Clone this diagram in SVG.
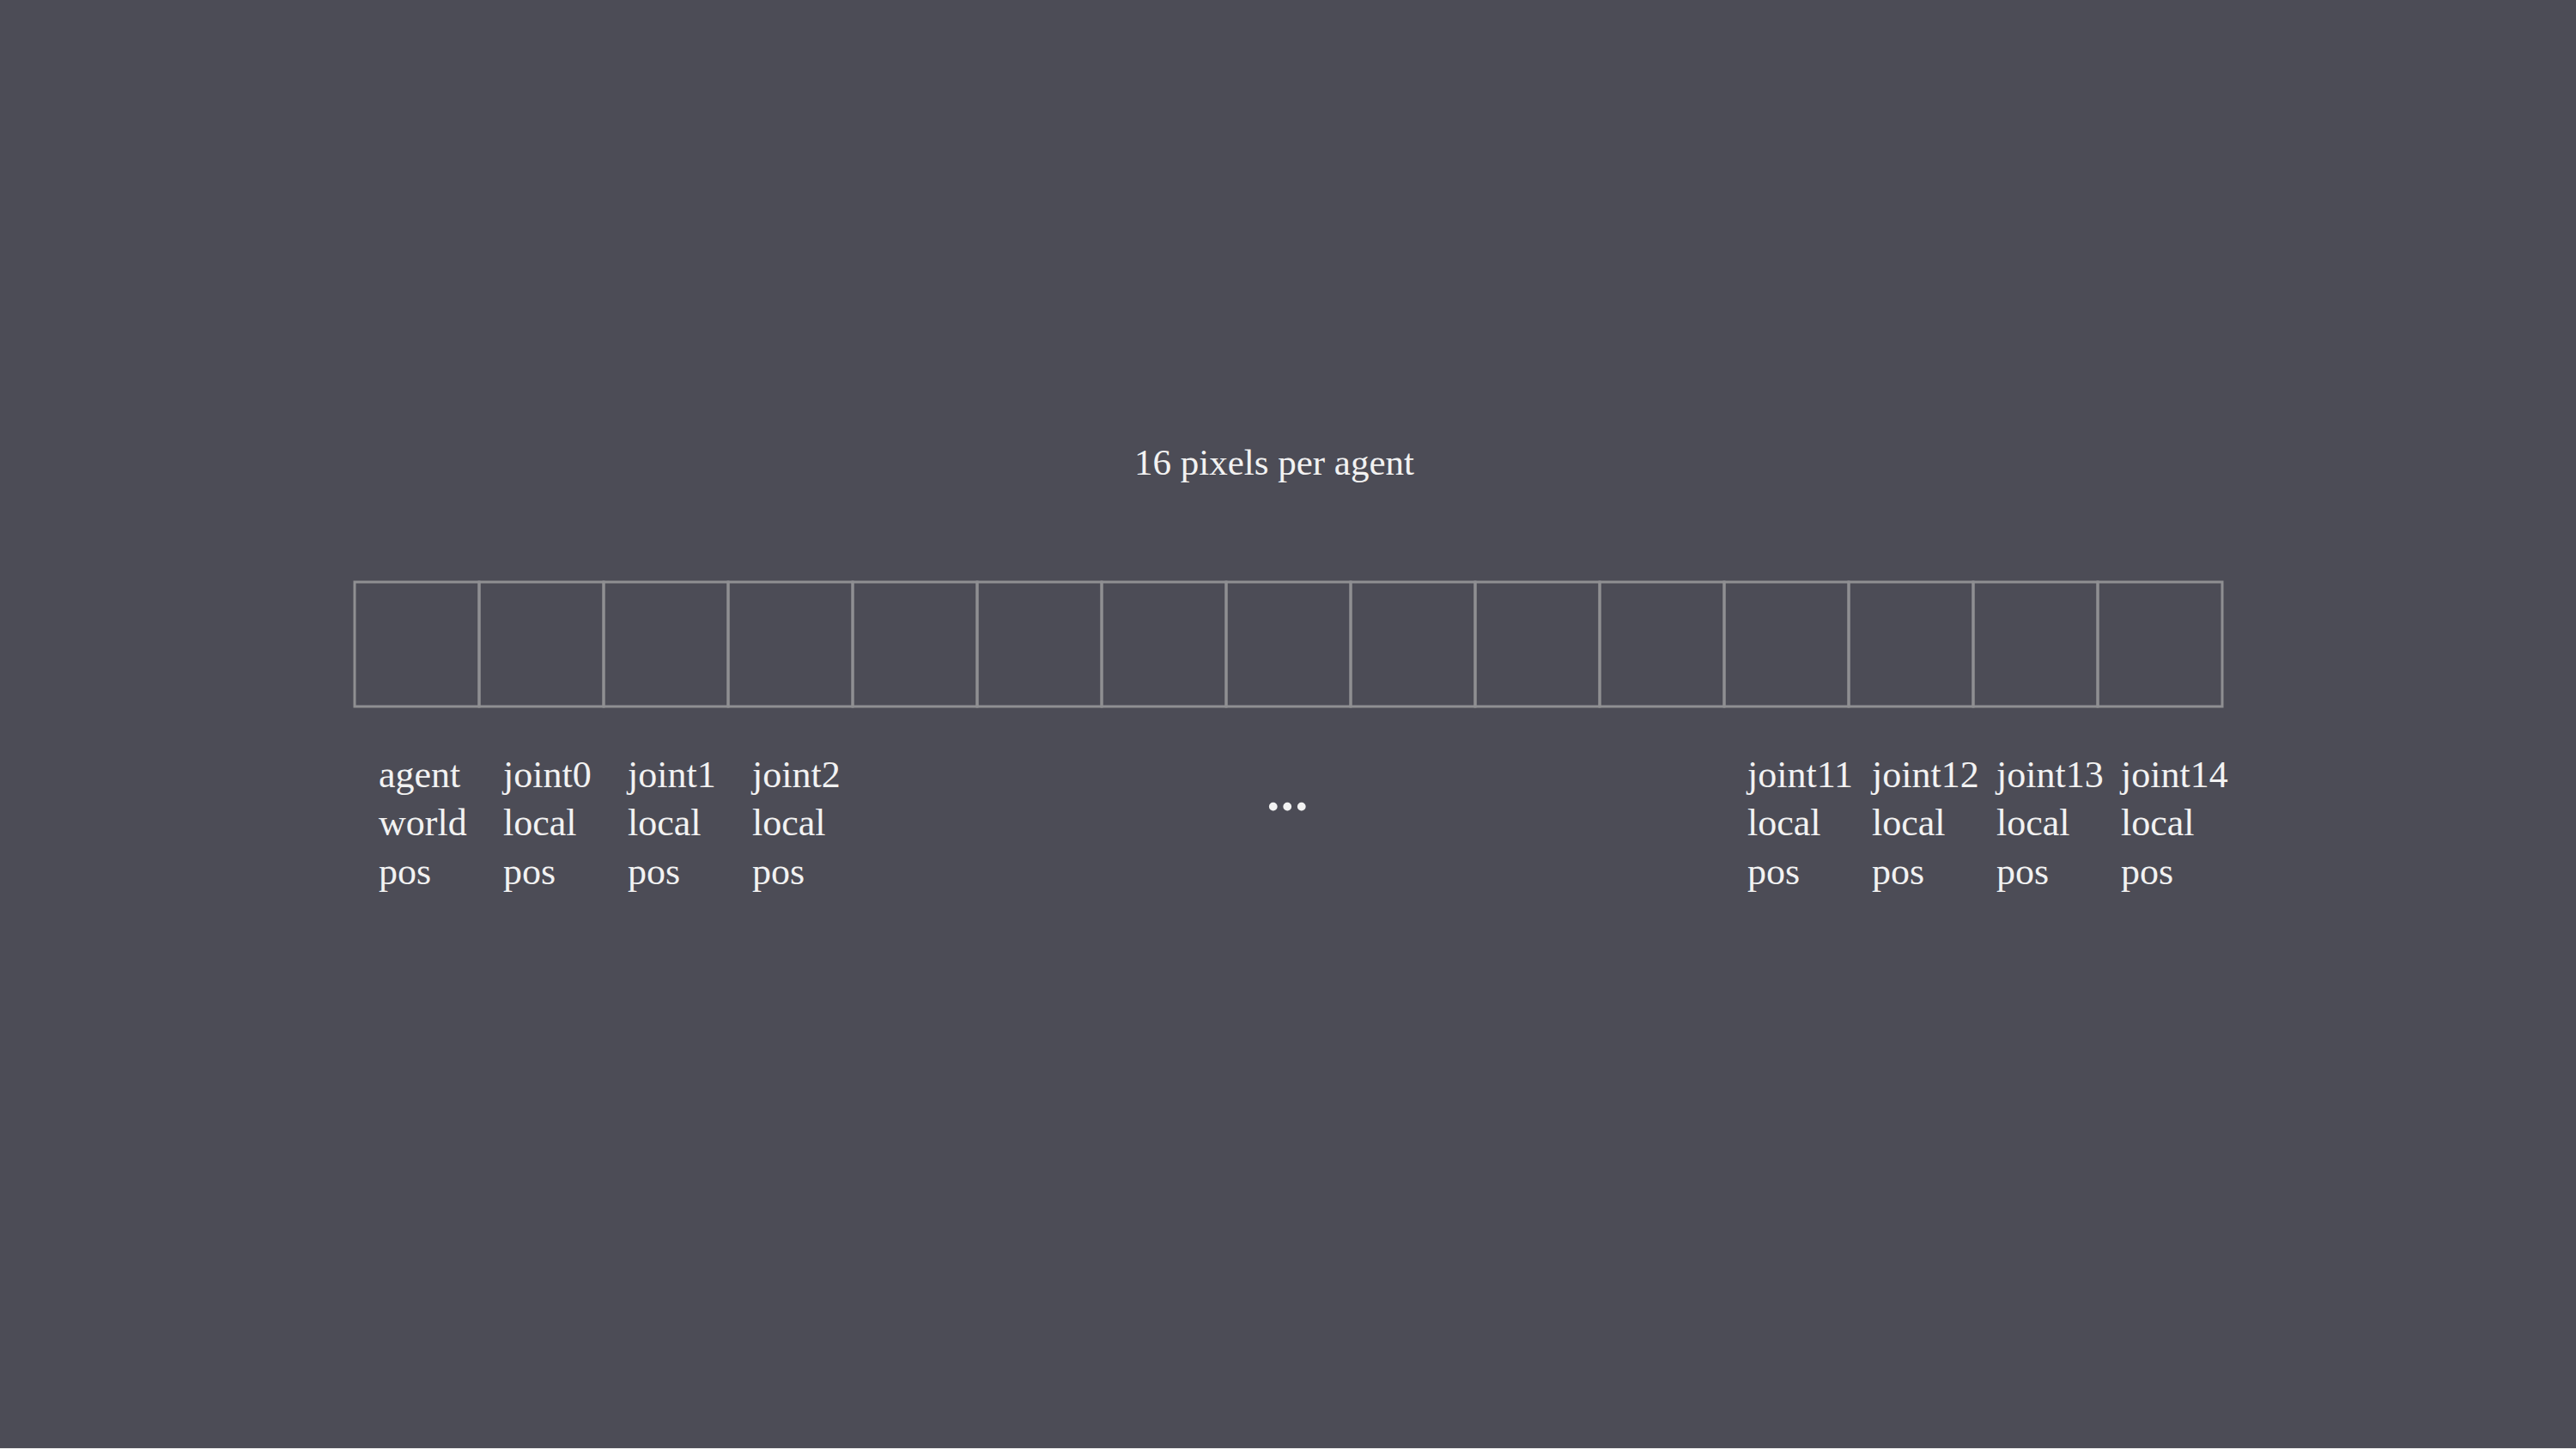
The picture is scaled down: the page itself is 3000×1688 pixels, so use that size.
<svg xmlns="http://www.w3.org/2000/svg" width="3000" height="1688" viewBox="0 0 3000 1688">
<style>
.cell{fill:none;stroke:#8f8f92;stroke-width:3}
.t{font-family:"Liberation Serif","Times New Roman",serif;font-size:44px;fill:#f2f2f2}
</style>
<rect x="0" y="0" width="3000" height="1688" fill="#4c4c56"/>
<rect x="0" y="1687" width="3000" height="1" fill="#eeeeee"/>
<text class="t" x="1484" y="553" text-anchor="middle" style="font-size:43px">16 pixels per agent</text>
<g id="cells">
<rect id="c0" class="cell" x="413" y="678" width="145" height="145"/>
<rect id="c1" class="cell" x="558" y="678" width="145" height="145"/>
<rect id="c2" class="cell" x="703" y="678" width="145" height="145"/>
<rect id="c3" class="cell" x="848" y="678" width="145" height="145"/>
<rect id="c4" class="cell" x="993" y="678" width="145" height="145"/>
<rect id="c5" class="cell" x="1138" y="678" width="145" height="145"/>
<rect id="c6" class="cell" x="1283" y="678" width="145" height="145"/>
<rect id="c7" class="cell" x="1428" y="678" width="145" height="145"/>
<rect id="c8" class="cell" x="1573" y="678" width="145" height="145"/>
<rect id="c9" class="cell" x="1718" y="678" width="145" height="145"/>
<rect id="c10" class="cell" x="1863" y="678" width="145" height="145"/>
<rect id="c11" class="cell" x="2008" y="678" width="145" height="145"/>
<rect id="c12" class="cell" x="2153" y="678" width="145" height="145"/>
<rect id="c13" class="cell" x="2298" y="678" width="145" height="145"/>
<rect id="c14" class="cell" x="2443" y="678" width="145" height="145"/>
</g>
<g id="labels">
<text class="t" x="441" y="917"><tspan x="441">agent</tspan><tspan x="441" dy="56">world</tspan><tspan x="441" dy="57">pos</tspan></text>
<text class="t" x="586" y="917"><tspan x="586">joint0</tspan><tspan x="586" dy="56">local</tspan><tspan x="586" dy="57">pos</tspan></text>
<text class="t" x="731" y="917"><tspan x="731">joint1</tspan><tspan x="731" dy="56">local</tspan><tspan x="731" dy="57">pos</tspan></text>
<text class="t" x="876" y="917"><tspan x="876">joint2</tspan><tspan x="876" dy="56">local</tspan><tspan x="876" dy="57">pos</tspan></text>
<text class="t" x="2035" y="917"><tspan x="2035">joint11</tspan><tspan x="2035" dy="56">local</tspan><tspan x="2035" dy="57">pos</tspan></text>
<text class="t" x="2180" y="917"><tspan x="2180">joint12</tspan><tspan x="2180" dy="56">local</tspan><tspan x="2180" dy="57">pos</tspan></text>
<text class="t" x="2325" y="917"><tspan x="2325">joint13</tspan><tspan x="2325" dy="56">local</tspan><tspan x="2325" dy="57">pos</tspan></text>
<text class="t" x="2470" y="917"><tspan x="2470">joint14</tspan><tspan x="2470" dy="56">local</tspan><tspan x="2470" dy="57">pos</tspan></text>
<text class="t" x="1500" y="944" text-anchor="middle" style="font-size:60px;font-weight:bold;letter-spacing:1.5px">...</text>
</g>
</svg>
